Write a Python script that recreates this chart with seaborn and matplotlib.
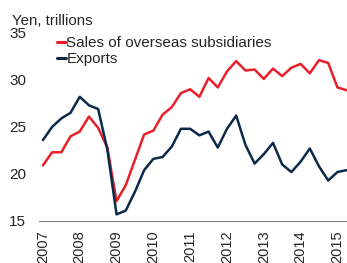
import numpy as np
import pandas as pd
import matplotlib
matplotlib.use("Agg")
import matplotlib.pyplot as plt
import seaborn as sns

# quarterly, 2007Q1 .. 2015Q2
quarters = pd.period_range("2007Q1", "2015Q2", freq="Q")
sales = [20.9, 22.3, 22.3, 24.0, 24.5, 26.1, 24.9, 22.8,
         17.1, 18.8, 21.5, 24.2, 24.6, 26.3, 27.1, 28.6,
         29.0, 28.2, 30.2, 29.2, 30.9, 32.0, 31.0, 31.1,
         30.1, 31.2, 30.4, 31.3, 31.7, 30.7, 32.1, 31.8,
         29.2, 28.9]
exports = [23.6, 25.0, 25.9, 26.5, 28.2, 27.3, 26.9, 22.6,
           15.7, 16.1, 18.1, 20.4, 21.6, 21.8, 22.9, 24.8,
           24.8, 24.1, 24.5, 22.8, 24.8, 26.2, 23.1, 21.1,
           22.1, 23.3, 21.0, 20.2, 21.3, 22.7, 20.8, 19.3,
           20.2, 20.4]
years = list(range(2007, 2016))

xpos = [q.year + (q.quarter - 1) / 4 for q in quarters]
df = pd.DataFrame({
    "x": xpos * 2,
    "value": sales + exports,
    "series": ["Sales of overseas subsidiaries"] * len(sales) + ["Exports"] * len(exports),
})

sns.set_style("white")
plt.rcParams["font.family"] = ["Liberation Sans", "DejaVu Sans"]

fig = plt.figure(figsize=(3.47, 2.63), dpi=100)
ax = fig.add_axes([0.112, 0.16, 0.888, 0.715])

sns.lineplot(data=df, x="x", y="value", hue="series", ax=ax,
             palette={"Sales of overseas subsidiaries": "#E8202A", "Exports": "#0B2A4A"},
             linewidth=1.8)

ax.set_xlim(2006.89, 2015.26)
ax.set_ylim(15, 35)
ax.set_xticks(years)
ax.set_xticklabels([str(y) for y in years], rotation=90, fontsize=10.5)
ax.set_yticks([15, 20, 25, 30, 35])
ax.tick_params(axis="y", length=0, pad=9, labelsize=11)
ax.tick_params(axis="x", length=0, pad=7)
ax.set_xlabel("")
ax.set_ylabel("")
for s in ["left", "top", "right"]:
    ax.spines[s].set_visible(False)
ax.spines["bottom"].set_color("#808080")
ax.spines["bottom"].set_linewidth(0.8)

fig.text(0.035, 0.92, "Yen, trillions", fontsize=10.8, va="center", ha="left")

leg = ax.legend(loc="upper left", bbox_to_anchor=(0.03, 1.03), frameon=False,
                handlelength=0.55, handletextpad=0.05, labelspacing=0.12,
                fontsize=11, borderaxespad=0.2)
for line in leg.get_lines():
    line.set_linewidth(2.2)

fig.savefig("out.png", dpi=100)
